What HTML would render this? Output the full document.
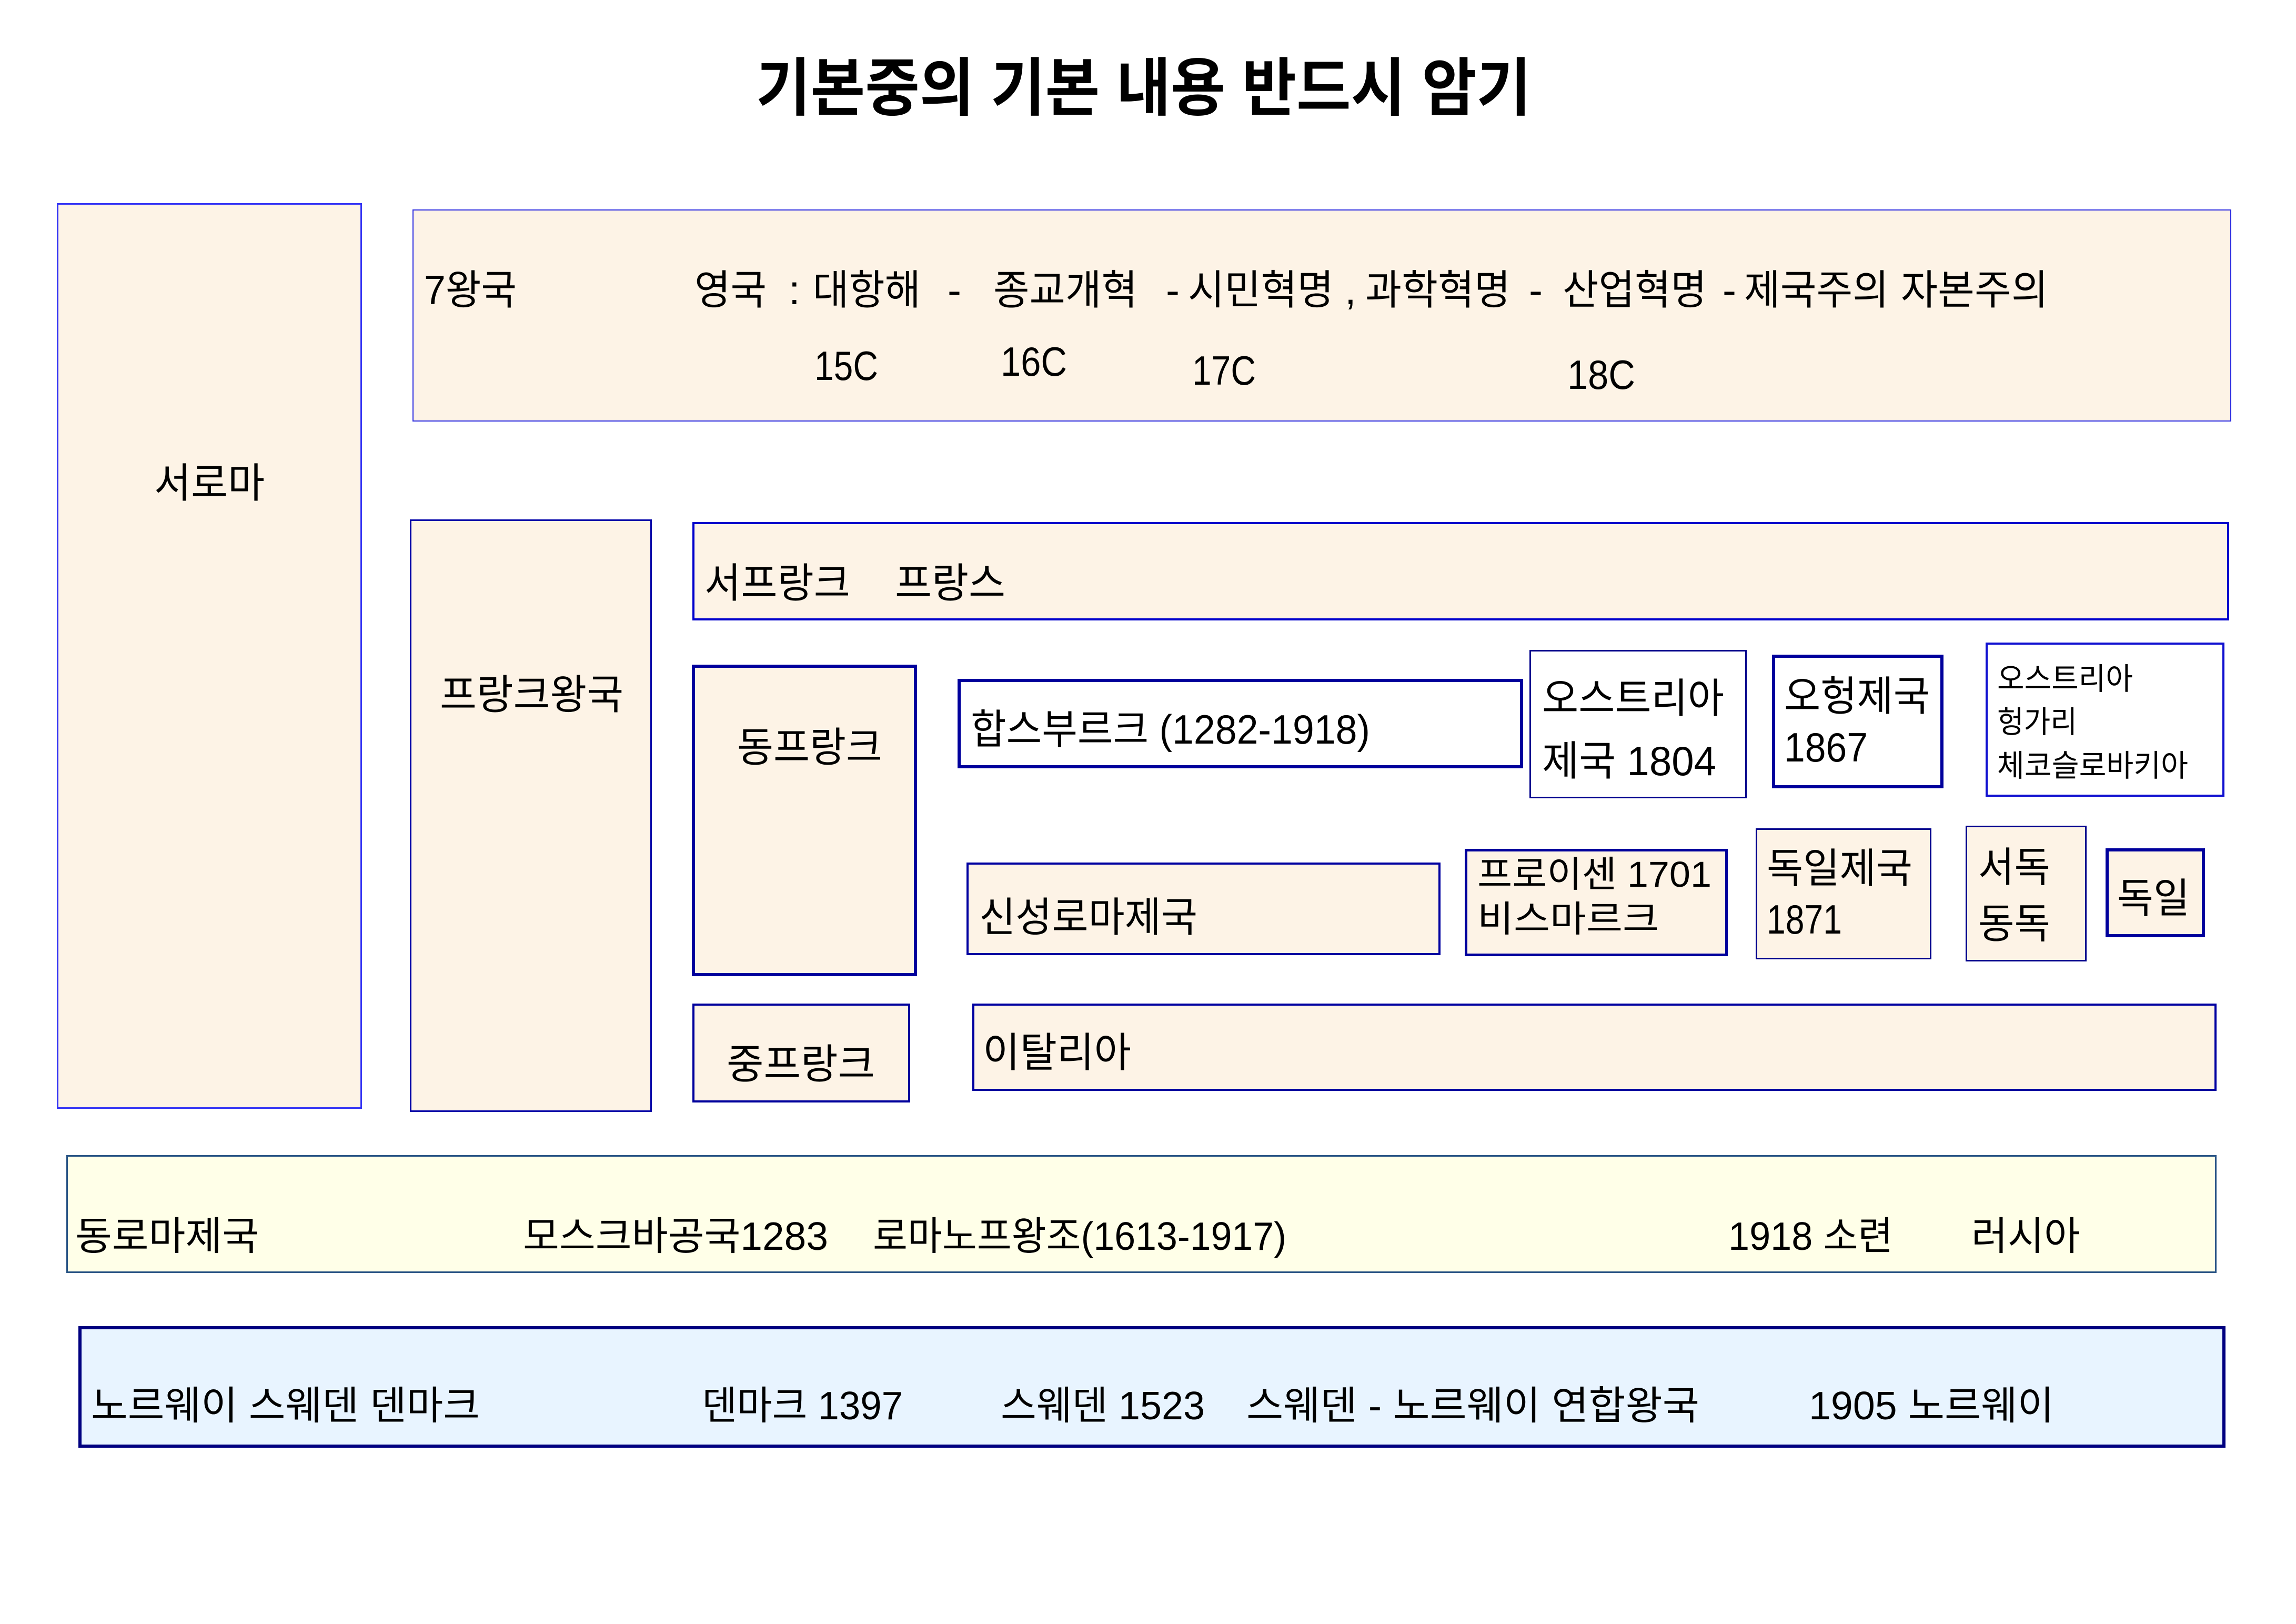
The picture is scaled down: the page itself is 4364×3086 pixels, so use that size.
<!DOCTYPE html>
<html><head><meta charset="utf-8"><style>
html,body{margin:0;padding:0;background:#fff;}
svg{display:block;}
text{font-family:"Liberation Sans","Noto Sans CJK KR","NanumGothic",sans-serif;fill:#000;}
.b{font-size:78px;}
.s{font-size:58px;}
.m{font-size:69px;}
.r{font-size:75px;}
.t{font-size:120px;font-weight:bold;}
</style></head><body>
<svg width="4364" height="3086" viewBox="0 0 4364 3086" xmlns="http://www.w3.org/2000/svg">
<rect x="0" y="0" width="4364" height="3086" fill="#ffffff"/>

<!-- boxes -->
<rect x="109.5" y="387.5" width="577" height="1718" fill="#fdf3e6" stroke="#3535f5" stroke-width="3"/>
<rect x="785" y="399" width="3455" height="401" fill="#fdf3e6" stroke="#2a2ae0" stroke-width="2"/>
<rect x="780.5" y="988.5" width="457" height="1123" fill="#fdf3e6" stroke="#0000a8" stroke-width="3"/>
<rect x="1318" y="994" width="2917" height="183" fill="#fdf3e6" stroke="#0000cc" stroke-width="4"/>
<rect x="1318" y="1266" width="422" height="586" fill="#fdf3e6" stroke="#00009c" stroke-width="6"/>
<rect x="1318" y="1909" width="410" height="184" fill="#fdf3e6" stroke="#00009c" stroke-width="4"/>
<rect x="1823" y="1293" width="1069" height="164" fill="#ffffff" stroke="#00009c" stroke-width="6"/>
<rect x="2908.5" y="1236.5" width="410" height="279" fill="#ffffff" stroke="#00008c" stroke-width="3"/>
<rect x="3371" y="1247" width="320" height="248" fill="#ffffff" stroke="#00009c" stroke-width="6"/>
<rect x="3776" y="1223" width="450" height="289" fill="#ffffff" stroke="#1010d0" stroke-width="4"/>
<rect x="1839" y="1641" width="897" height="172" fill="#fdf3e6" stroke="#0000a0" stroke-width="4"/>
<rect x="2786.5" y="1615.5" width="495" height="199" fill="#fdf3e6" stroke="#00009c" stroke-width="5"/>
<rect x="3338.5" y="1575.5" width="331" height="246" fill="#fdf3e6" stroke="#00008c" stroke-width="3"/>
<rect x="3737.5" y="1570.5" width="227" height="255" fill="#fdf3e6" stroke="#00008c" stroke-width="3"/>
<rect x="4005" y="1615" width="183" height="163" fill="#fdf3e6" stroke="#00009c" stroke-width="6"/>
<rect x="1850" y="1909" width="2361" height="162" fill="#fdf3e6" stroke="#0000a0" stroke-width="4"/>
<rect x="127.5" y="2196.5" width="4084" height="221" fill="#ffffe8" stroke="#2a5585" stroke-width="3"/>
<rect x="152" y="2523" width="4075" height="225" fill="#e8f4ff" stroke="#000080" stroke-width="6"/>

<!-- title -->
<text class="t" x="1437" y="209" textLength="1473" lengthAdjust="spacingAndGlyphs">기본중의 기본 내용 반드시 암기</text>

<!-- 7왕국 row -->
<text class="b" x="806" y="578" textLength="176" lengthAdjust="spacingAndGlyphs">7왕국</text>
<text class="b" x="1320" y="578" textLength="137" lengthAdjust="spacingAndGlyphs">영국</text>
<text class="b" x="1499" y="578">:</text>
<text class="b" x="1545" y="578" textLength="205" lengthAdjust="spacingAndGlyphs">대항해</text>
<text class="b" x="1801" y="578">-</text>
<text class="b" x="1888" y="578" textLength="274" lengthAdjust="spacingAndGlyphs">종교개혁</text>
<text class="b" x="2216" y="578">-</text>
<text class="b" x="2258" y="578" textLength="277" lengthAdjust="spacingAndGlyphs">시민혁명</text>
<text class="b" x="2556" y="578">,</text>
<text class="b" x="2595" y="578" textLength="276" lengthAdjust="spacingAndGlyphs">과학혁명</text>
<text class="b" x="2906" y="578">-</text>
<text class="b" x="2970" y="578" textLength="274" lengthAdjust="spacingAndGlyphs">산업혁명</text>
<text class="b" x="3274" y="578">-</text>
<text class="b" x="3315" y="578" textLength="275" lengthAdjust="spacingAndGlyphs">제국주의</text>
<text class="b" x="3613" y="578" textLength="280" lengthAdjust="spacingAndGlyphs">자본주의</text>

<text class="b" x="1548" y="722" textLength="121" lengthAdjust="spacingAndGlyphs">15C</text>
<text class="b" x="1902" y="714" textLength="126" lengthAdjust="spacingAndGlyphs">16C</text>
<text class="b" x="2266" y="731" textLength="121" lengthAdjust="spacingAndGlyphs">17C</text>
<text class="b" x="2979" y="739" textLength="129" lengthAdjust="spacingAndGlyphs">18C</text>

<!-- left -->
<text class="b" x="293" y="945" textLength="210" lengthAdjust="spacingAndGlyphs">서로마</text>
<text class="b" x="836" y="1347" textLength="349" lengthAdjust="spacingAndGlyphs">프랑크왕국</text>

<text class="b" x="1339" y="1135" textLength="277" lengthAdjust="spacingAndGlyphs">서프랑크</text>
<text class="b" x="1701" y="1135" textLength="210" lengthAdjust="spacingAndGlyphs">프랑스</text>

<text class="b" x="1401" y="1447" textLength="276" lengthAdjust="spacingAndGlyphs">동프랑크</text>
<text class="b" x="1381" y="2049" textLength="282" lengthAdjust="spacingAndGlyphs">중프랑크</text>

<text class="b" x="1845" y="1413" textLength="759" lengthAdjust="spacingAndGlyphs">합스부르크 (1282-1918)</text>

<text class="b" x="2931" y="1354" textLength="346" lengthAdjust="spacingAndGlyphs">오스트리아</text>
<text class="b" x="2931" y="1473" textLength="331" lengthAdjust="spacingAndGlyphs">제국 1804</text>

<text class="b" x="3391" y="1350" textLength="277" lengthAdjust="spacingAndGlyphs">오헝제국</text>
<text class="b" x="3391" y="1447" textLength="159" lengthAdjust="spacingAndGlyphs">1867</text>

<text class="s" x="3796" y="1310" textLength="258" lengthAdjust="spacingAndGlyphs">오스트리아</text>
<text class="s" x="3796" y="1392" textLength="152" lengthAdjust="spacingAndGlyphs">헝가리</text>
<text class="s" x="3796" y="1475" textLength="363" lengthAdjust="spacingAndGlyphs">체코슬로바키아</text>

<text class="b" x="1861" y="1770" textLength="415" lengthAdjust="spacingAndGlyphs">신성로마제국</text>

<text class="m" x="2808" y="1685" textLength="445" lengthAdjust="spacingAndGlyphs">프로이센 1701</text>
<text class="m" x="2808" y="1770" textLength="345" lengthAdjust="spacingAndGlyphs">비스마르크</text>

<text class="b" x="3358" y="1677" textLength="277" lengthAdjust="spacingAndGlyphs">독일제국</text>
<text class="b" x="3358" y="1774" textLength="143" lengthAdjust="spacingAndGlyphs">1871</text>

<text class="b" x="3760" y="1675" textLength="137" lengthAdjust="spacingAndGlyphs">서독</text>
<text class="b" x="3760" y="1782" textLength="137" lengthAdjust="spacingAndGlyphs">동독</text>

<text class="b" x="4024" y="1734" textLength="138" lengthAdjust="spacingAndGlyphs">독일</text>

<text class="b" x="1868" y="2027" textLength="282" lengthAdjust="spacingAndGlyphs">이탈리아</text>

<!-- 동로마 row -->
<text class="r" x="143" y="2375" textLength="349" lengthAdjust="spacingAndGlyphs">동로마제국</text>
<text class="r" x="994" y="2375" textLength="580" lengthAdjust="spacingAndGlyphs">모스크바공국1283</text>
<text class="r" x="1659" y="2375" textLength="786" lengthAdjust="spacingAndGlyphs">로마노프왕조(1613-1917)</text>
<text class="r" x="3285" y="2375" textLength="313" lengthAdjust="spacingAndGlyphs">1918 소련</text>
<text class="r" x="3747" y="2375" textLength="207" lengthAdjust="spacingAndGlyphs">러시아</text>

<!-- 노르웨이 row -->
<text class="r" x="173" y="2697" textLength="739" lengthAdjust="spacingAndGlyphs">노르웨이 스웨덴 덴마크</text>
<text class="r" x="1334" y="2697" textLength="382" lengthAdjust="spacingAndGlyphs">덴마크 1397</text>
<text class="r" x="1902" y="2697" textLength="388" lengthAdjust="spacingAndGlyphs">스웨덴 1523</text>
<text class="r" x="2369" y="2697" textLength="861" lengthAdjust="spacingAndGlyphs">스웨덴 - 노르웨이 연합왕국</text>
<text class="r" x="3438" y="2697" textLength="466" lengthAdjust="spacingAndGlyphs">1905 노르웨이</text>
</svg>
</body></html>
